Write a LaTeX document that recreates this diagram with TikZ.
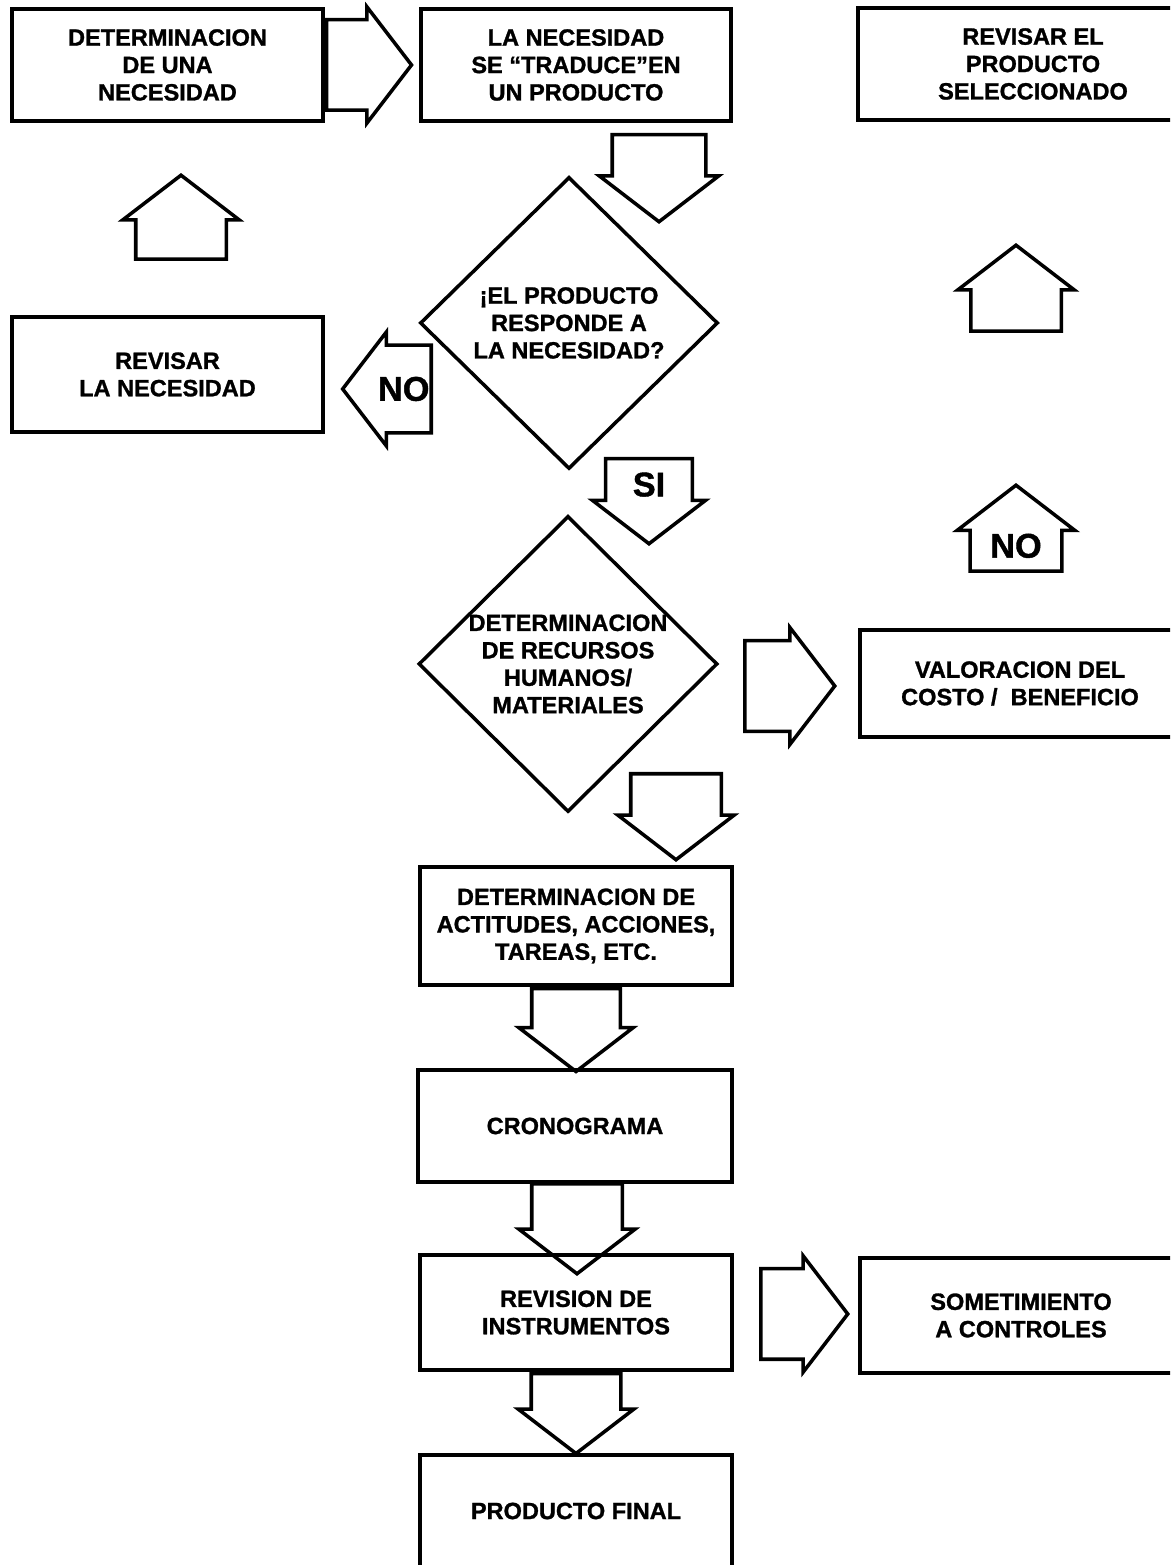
\documentclass[tikz,border=0pt]{standalone}
\usepackage{fontspec}
\setmainfont{Liberation Sans}[BoldFeatures={FakeBold=1.2}]
\usetikzlibrary{shapes.geometric, shapes.arrows, positioning}

\tikzset{
  caja/.style={draw, line width=2pt, align=center, inner sep=0pt,
    font=\fontsize{13.4}{15.6}\selectfont\bfseries},
  rombo/.style={draw, diamond, line width=2pt, align=center, inner sep=-0.45cm,
    font=\fontsize{13.4}{15.6}\selectfont\bfseries},
  flecha/.style={draw, single arrow, line width=2pt, anchor=tail,
    minimum height=1.7cm, minimum width=2.26cm,
    single arrow head extend=0.26cm, single arrow tip angle=105},
  flechah/.style={flecha, inner xsep=0pt, inner ysep=0.87cm},
  flechav/.style={flecha, inner xsep=0.87cm, inner ysep=0pt},
  rotflecha/.style={font=\fontsize{19.5}{20}\selectfont\bfseries}
}

\begin{document}
\begin{tikzpicture}[x=1cm, y=1cm]
\useasboundingbox (0,0) rectangle (23.4,31.3);
\clip (0,0) rectangle (23.4,31.3);
% cajas
\node[caja, minimum width=6.22cm, minimum height=2.24cm] (necesidad) at (3.35,30.00)
  {DETERMINACION\\DE UNA\\NECESIDAD};
\node[caja, minimum width=6.20cm, minimum height=2.24cm] (traduce) at (11.52,30.00)
  {LA NECESIDAD\\SE “TRADUCE”EN\\UN PRODUCTO};
\node[caja, minimum width=7.00cm, minimum height=2.24cm] (revprod) at (20.66,30.02)
  {REVISAR EL\\PRODUCTO\\SELECCIONADO};
\node[caja, minimum width=6.22cm, minimum height=2.30cm] (revnec) at (3.35,23.81)
  {REVISAR\\LA NECESIDAD};
\node[caja, minimum width=6.40cm, minimum height=2.14cm] (valoracion) at (20.40,17.63)
  {VALORACION DEL\\COSTO /\ \ BENEFICIO};
\node[caja, minimum width=6.24cm, minimum height=2.36cm] (actitudes) at (11.52,12.78)
  {DETERMINACION DE\\ACTITUDES, ACCIONES,\\TAREAS, ETC.};
\node[caja, minimum width=6.28cm, minimum height=2.24cm] (cronograma) at (11.50,8.78)
  {CRONOGRAMA};
\node[caja, minimum width=6.24cm, minimum height=2.30cm] (revinst) at (11.52,5.05)
  {REVISION DE\\INSTRUMENTOS};
\node[caja, minimum width=6.44cm, minimum height=2.30cm] (sometim) at (20.42,4.99)
  {SOMETIMIENTO\\A CONTROLES};
\node[caja, minimum width=6.24cm, minimum height=2.24cm] (final) at (11.52,1.08)
  {PRODUCTO FINAL};
% decisiones
\node[rombo, minimum width=5.96cm, minimum height=5.84cm] (responde) at (11.38,24.84)
  {¡EL PRODUCTO\\RESPONDE A\\LA NECESIDAD?};
\node[rombo, minimum width=5.98cm, minimum height=5.92cm] (recursos) at (11.36,18.02)
  {DETERMINACION\\DE RECURSOS\\HUMANOS/\\MATERIALES};
% flechas de bloque
\node[flechah, shape border rotate=0] (f1) at (necesidad.east) {};
\node[flechav, shape border rotate=270, minimum height=1.74cm, inner xsep=0.9cm] (f2) at (13.18,28.64) {};
\node[flechav, shape border rotate=90, minimum height=1.68cm] (f3) at (3.62,26.08) {};
\node[flechah, shape border rotate=180, minimum height=1.68cm, inner ysep=0.6cm, rotflecha] (f4) at (8.66,23.52) {NO};
\node[flechav, shape border rotate=270, inner xsep=0.5cm, rotflecha] (f5) at (12.98,22.16) {SI};
\node[flechav, shape border rotate=90, minimum height=1.72cm] (f6) at (20.32,24.64) {};
\node[flechav, shape border rotate=90, minimum height=1.72cm, inner xsep=0.37cm, rotflecha] (f7) at (20.32,19.84) {NO};
\node[flechah, shape border rotate=0, minimum height=1.80cm, minimum width=2.34cm] (f8) at (14.86,17.58) {};
\node[flechav, shape border rotate=270, minimum height=1.72cm] (f9) at (13.52,15.86) {};
\node[flechav, shape border rotate=270, minimum height=1.66cm, inner xsep=0.85cm] (f10) at (actitudes.south) {};
\node[flechav, shape border rotate=270, minimum height=1.80cm] (f11) at (11.54,7.66) {};
\node[flechah, shape border rotate=0, minimum height=1.74cm] (f12) at (15.18,5.02) {};
\node[flechav, shape border rotate=270, minimum height=1.60cm, inner xsep=0.86cm] (f13) at (revinst.south) {};
\end{tikzpicture}
\end{document}
